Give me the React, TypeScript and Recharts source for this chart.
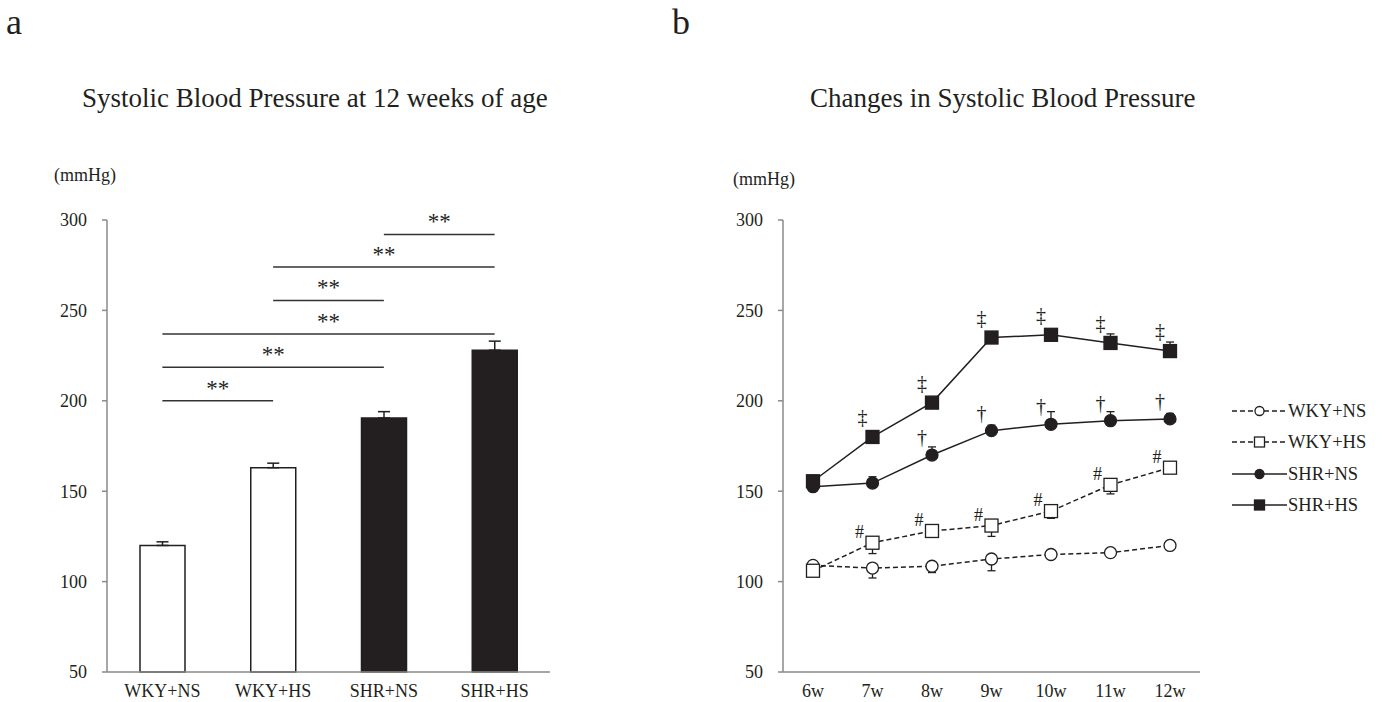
import {
  BarChart, Bar, Cell, LineChart, Line, XAxis, YAxis,
  ErrorBar, ReferenceLine, Legend, LabelList,
} from "recharts";

// panel a: SBP at 12 weeks
const groups = ["WKY+NS", "WKY+HS", "SHR+NS", "SHR+HS"];
const sbp12w = [120, 163, 190.5, 228];
const sbp12wSem = [2, 2.5, 3.5, 5];

// ** comparisons (bracket from, to, level in mmHg)
const sigFrom = ["WKY+NS", "WKY+NS", "WKY+NS", "WKY+HS", "WKY+HS", "SHR+NS"];
const sigTo = ["WKY+HS", "SHR+NS", "SHR+HS", "SHR+NS", "SHR+HS", "SHR+HS"];
const sigLevel = [200, 218.5, 237, 255.5, 274, 292];

// panel b: weekly SBP
const weeks = ["6w", "7w", "8w", "9w", "10w", "11w", "12w"];
const wkyNs = [109, 107.5, 108.5, 112.5, 115, 116, 120];
const wkyNsSem = [0, 5.5, 3.5, 6.5, 1.5, 2.5, 1];
const wkyHs = [106, 121.5, 128, 131, 139, 153.5, 163];
const wkyHsSem = [1.5, 6, 1.5, 6, 4, 5, 1];
const shrNs = [152.5, 154.5, 170, 183.5, 187, 189, 190];
const shrNsSem = [1.5, 3.5, 4.5, 3, 7, 5, 3];
const shrHs = [155.5, 180, 199, 235, 236.5, 232, 227.5];
const shrHsSem = [1.5, 1.5, 1.5, 2.5, 1.5, 5, 5];
const wkyHsMarks = ["", "#", "#", "#", "#", "#", "#"];
const shrNsMarks = ["", "", "†", "†", "†", "†", "†"];
const shrHsMarks = ["", "‡", "‡", "‡", "‡", "‡", "‡"];

const yTicks = [50, 100, 150, 200, 250, 300];

const INK = "#231f20";
const AXIS = "#8a8a8a";
const FONT = "'Liberation Serif', 'Times New Roman', serif";

const barData = groups.map((g, i) => ({
  group: g,
  sbp: sbp12w[i],
  err: [0, sbp12wSem[i]],
}));

const lineData = weeks.map((w, i) => ({
  week: w,
  wkyNs: wkyNs[i], wkyNsErr: [wkyNsSem[i], 0],
  wkyHs: wkyHs[i], wkyHsErr: [wkyHsSem[i], 0], wkyHsMark: wkyHsMarks[i],
  shrNs: shrNs[i], shrNsErr: [0, shrNsSem[i]], shrNsMark: shrNsMarks[i],
  shrHs: shrHs[i], shrHsErr: [0, shrHsSem[i]], shrHsMark: shrHsMarks[i],
}));

const series = [
  { key: "wkyNs", name: groups[0], shape: "circle", filled: false, dashed: true },
  { key: "wkyHs", name: groups[1], shape: "square", filled: false, dashed: true },
  { key: "shrNs", name: groups[2], shape: "circle", filled: true, dashed: false },
  { key: "shrHs", name: groups[3], shape: "square", filled: true, dashed: false },
];

const tickStyle = { fill: INK, fontSize: 18, fontFamily: FONT };

function Marker({ cx, cy, shape, filled, size }: any) {
  const fill = filled ? INK : "#ffffff";
  if (shape === "square") {
    return (
      <rect x={cx - size / 2} y={cy - size / 2} width={size} height={size}
        fill={fill} stroke={INK} strokeWidth={1.3} />
    );
  }
  return <circle cx={cx} cy={cy} r={size / 2 - 0.5} fill={fill} stroke={INK} strokeWidth={1.3} />;
}

const markLabel = (dx: number, dy: number, size: number) => (props: any) => {
  const x = props.x ?? props.viewBox?.x;
  const y = props.y ?? props.viewBox?.y;
  if (!props.value) return null;
  return (
    <text x={x + dx} y={y + dy} textAnchor="middle" fontSize={size}
      fontFamily={FONT} fill={INK}>
      {props.value}
    </text>
  );
};

function LegendBox() {
  return (
    <div style={{ fontFamily: FONT, fontSize: 18.5, color: INK }}>
      {series.map(s => (
        <div key={s.key} style={{ height: 31.5, display: "flex", alignItems: "center" }}>
          <svg width={56} height={20} style={{ display: "block" }}>
            <line x1={0} y1={10} x2={55} y2={10} stroke={INK} strokeWidth={1.5}
              strokeDasharray={s.dashed ? "5 3" : undefined} />
            <Marker cx={27.5} cy={10} shape={s.shape} filled={s.filled} size={10} />
          </svg>
          <span style={{ whiteSpace: "nowrap", lineHeight: 1 }}>{s.name}</span>
        </div>
      ))}
    </div>
  );
}

const textBase = {
  position: "absolute" as const,
  fontFamily: FONT,
  color: INK,
  lineHeight: 1,
  whiteSpace: "nowrap" as const,
};

export default function App() {
  return (
    <div style={{ position: "absolute", left: 0, top: 0, width: 1383, height: 702, background: "#fff" }}>
      <div style={{ ...textBase, left: 6, top: 4, fontSize: 36 }}>a</div>
      <div style={{ ...textBase, left: 672, top: 4, fontSize: 36 }}>b</div>
      <div style={{ ...textBase, left: 82, top: 85, fontSize: 27 }}>
        Systolic Blood Pressure at 12 weeks of age
      </div>
      <div style={{ ...textBase, left: 810, top: 85, fontSize: 27 }}>
        Changes in Systolic Blood Pressure
      </div>
      <div style={{ ...textBase, left: 54, top: 166, fontSize: 18 }}>(mmHg)</div>
      <div style={{ ...textBase, left: 733, top: 170, fontSize: 18 }}>(mmHg)</div>

      <div style={{ position: "absolute", left: 0, top: 0 }}>
        <BarChart width={600} height={702} data={barData}
          margin={{ top: 220, right: 50, bottom: 0, left: 47 }}>
          <XAxis dataKey="group" interval={0} tickLine={false} tickSize={0} tickMargin={12}
            axisLine={{ stroke: AXIS, strokeWidth: 1.5 }} tick={tickStyle} height={30} />
          <YAxis domain={[50, 300]} ticks={yTicks} width={60} tickSize={5} tickMargin={15}
            axisLine={{ stroke: AXIS, strokeWidth: 1.5 }} tickLine={{ stroke: AXIS, strokeWidth: 1.5 }}
            tick={tickStyle} />
          {sigLevel.map((lv, i) => (
            <ReferenceLine key={i}
              segment={[{ x: sigFrom[i], y: lv }, { x: sigTo[i], y: lv }]}
              stroke="#333333" strokeWidth={1.5}
              label={{ value: "**", position: "top", offset: 5, fontSize: 23, fill: INK, fontFamily: FONT }} />
          ))}
          <Bar dataKey="sbp" barSize={45} isAnimationActive={false} strokeWidth={1.5}>
            {barData.map((d, i) => (
              <Cell key={d.group} fill={i < 2 ? "#ffffff" : INK} stroke={INK} />
            ))}
            <ErrorBar dataKey="err" direction="y" width={6} stroke={INK} strokeWidth={1.5} />
          </Bar>
        </BarChart>
      </div>

      <div style={{ position: "absolute", left: 690, top: 0 }}>
        <LineChart width={693} height={702} data={lineData}
          margin={{ top: 220, right: 33, bottom: 0, left: 33 }}>
          <XAxis dataKey="week" interval={0} tickLine={false} tickSize={0} tickMargin={12}
            padding={{ left: 30, right: 30 }}
            axisLine={{ stroke: AXIS, strokeWidth: 1.5 }} tick={tickStyle} height={30} />
          <YAxis domain={[50, 300]} ticks={yTicks} width={60} tickSize={5} tickMargin={15}
            axisLine={{ stroke: AXIS, strokeWidth: 1.5 }} tickLine={{ stroke: AXIS, strokeWidth: 1.5 }}
            tick={tickStyle} />
          <Legend layout="vertical" align="right" verticalAlign="top" width={150}
            wrapperStyle={{ left: 542, top: 395 }} content={() => <LegendBox />} />
          {series.map(s => (
            <Line key={s.key} dataKey={s.key} name={s.name} isAnimationActive={false}
              stroke={INK} strokeWidth={1.5} strokeDasharray={s.dashed ? "5 3" : undefined}
              dot={(p: any) => (
                <Marker key={`${s.key}-${p.index}`} cx={p.cx} cy={p.cy} shape={s.shape}
                  filled={s.filled} size={13} />
              )}
              activeDot={false}>
              <ErrorBar dataKey={`${s.key}Err`} direction="y" width={4} stroke={INK} strokeWidth={1.3} />
              {s.key === "wkyHs" && <LabelList dataKey="wkyHsMark" content={markLabel(-13, -5, 18)} />}
              {s.key === "shrNs" && <LabelList dataKey="shrNsMark" content={markLabel(-10, -11, 20)} />}
              {s.key === "shrHs" && <LabelList dataKey="shrHsMark" content={markLabel(-10, -13, 20)} />}
            </Line>
          ))}
        </LineChart>
      </div>
    </div>
  );
}
